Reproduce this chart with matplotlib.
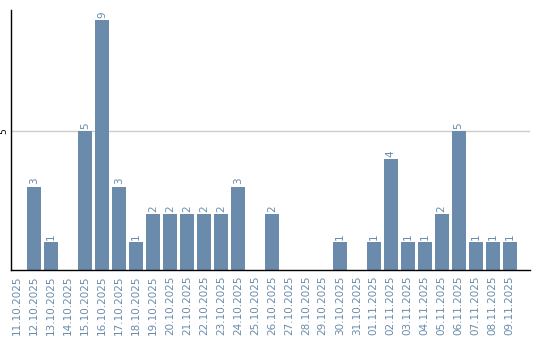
import numpy as np
import matplotlib
matplotlib.use("Agg")
import matplotlib.pyplot as plt

# Daily counts
dates = ["11.10.2025", "12.10.2025", "13.10.2025", "14.10.2025", "15.10.2025",
         "16.10.2025", "17.10.2025", "18.10.2025", "19.10.2025", "20.10.2025",
         "21.10.2025", "22.10.2025", "23.10.2025", "24.10.2025", "25.10.2025",
         "26.10.2025", "27.10.2025", "28.10.2025", "29.10.2025", "30.10.2025",
         "31.10.2025", "01.11.2025", "02.11.2025", "03.11.2025", "04.11.2025",
         "05.11.2025", "06.11.2025", "07.11.2025", "08.11.2025", "09.11.2025"]
counts = [0, 3, 1, 0, 5, 9, 3, 1, 2, 2, 2, 2, 2, 3, 0, 2, 0, 0, 0, 1,
          0, 1, 4, 1, 1, 2, 5, 1, 1, 1]

bar_color = "#6a8bab"

fig = plt.figure(figsize=(5.4, 3.4), dpi=100)
ax = fig.add_axes([11 / 540, 70 / 340, 519 / 540, 260 / 340])

x = np.arange(len(dates))
ax.bar(x, counts, width=0.82, color=bar_color, zorder=2)

# value labels above non-zero bars
for xi, v in zip(x, counts):
    if v > 0:
        ax.text(xi, v + 0.08, str(v), rotation=90, ha="center", va="bottom",
                fontsize=7.5, color=bar_color)

ax.set_xlim(-0.35, 30.2)
ax.set_ylim(0, 9.35)

ax.set_yticks([5])
ax.set_yticklabels(["5"], rotation=90, va="center", fontsize=6.5)
ax.axhline(5, color="#cccccc", lw=1, zorder=1)
ax.tick_params(axis="y", length=0, pad=2)

ax.set_xticks(x)
ax.set_xticklabels(dates, rotation=90, fontsize=7.5, color=bar_color)
ax.tick_params(axis="x", length=0, pad=4)

for s in ["top", "right"]:
    ax.spines[s].set_visible(False)
ax.spines["left"].set_linewidth(1)
ax.spines["bottom"].set_linewidth(1)

fig.savefig("out.png", dpi=100)
